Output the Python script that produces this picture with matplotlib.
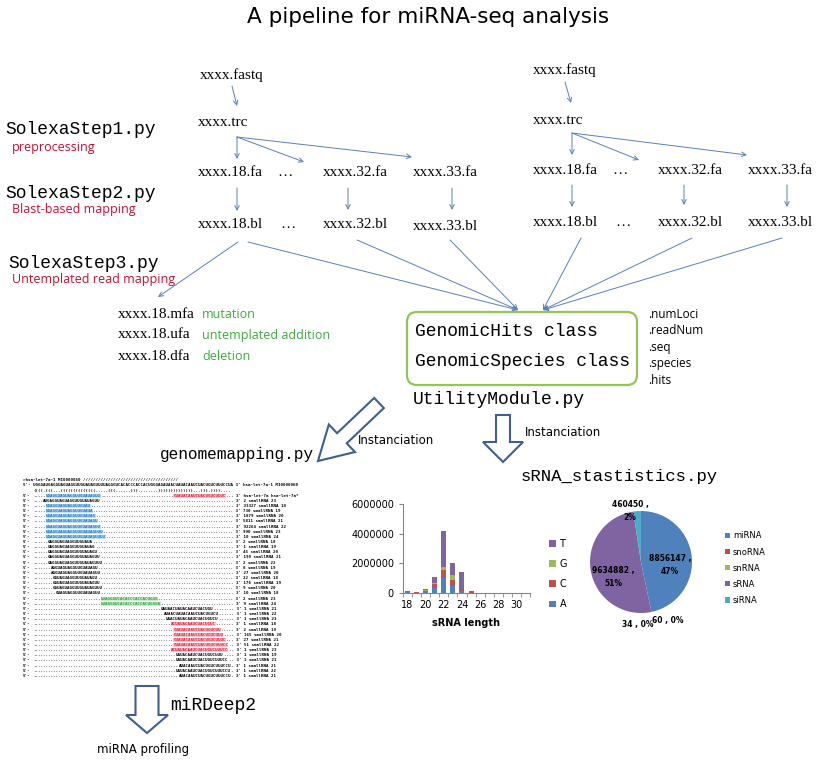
import numpy as np
import matplotlib.pyplot as plt
import matplotlib.patches as mpatches

W, H = 834, 766

# reads per length, stacked by first nucleotide
read_lengths = list(range(18, 32))
count_A = [40000, 20000, 100000, 330000, 990000, 450000, 150000, 30000, 5000, 3000, 2000, 2000, 1000, 1000]
count_C = [30000, 15000, 60000, 270000, 550000, 430000, 100000, 20000, 3000, 2000, 1000, 1000, 1000, 1000]
count_G = [20000, 10000, 40000, 100000, 200000, 300000, 50000, 15000, 3000, 2000, 1000, 1000, 1000, 1000]
count_T = [60000, 35000, 100000, 400000, 2410000, 820000, 1100000, 55000, 9000, 5000, 3000, 3000, 2000, 2000]
nuc_colors = {'A': '#4F81BD', 'C': '#C0504D', 'G': '#9BBB59', 'T': '#8064A2'}

# small RNA classes
pie_labels = ['miRNA', 'snoRNA', 'snRNA', 'sRNA', 'siRNA']
pie_counts = [8856147, 60, 34, 9634882, 460450]
pie_colors = ['#4F81BD', '#C0504D', '#9BBB59', '#8064A2', '#4BACC6']

# hairpin alignment (genomemapping.py output)
precursor = "UGGGAUGAGGUAGUAGGUUGUAUAGUUUUAGGGUCACACCCACCACUGGGAGAUAACUAUACAAUCUACUGUCUUUCCUA"
structure = "((((.(((...((((((((((((((.....(((......)))........))))))))))))))...))).))))...."
mature_start, mature_len = 5, 22
star_start, star_len = 56, 21
read_starts = [4, 5, 5, 5, 5, 5, 5, 5, 6, 6, 6, 6, 6, 7, 7, 8, 8, 8, 9,
               27, 27, 51, 52, 53, 55, 56, 56, 56, 56, 55, 57, 57, 58, 57, 58]
read_lens = [23, 18, 19, 20, 21, 22, 23, 24, 18, 19, 20, 21, 22, 19, 20, 18, 19, 20, 18,
             23, 24, 21, 22, 21, 18, 19, 20, 21, 22, 23, 19, 21, 21, 22, 21]
read_kinds = ['k', 'b', 'b', 'b', 'b', 'b', 'b', 'b', 'k', 'k', 'k', 'k', 'k', 'k', 'k', 'k', 'k', 'k', 'k',
              'g', 'g', 'k', 'k', 'k', 'r', 'r', 'r', 'r', 'r', 'r', 'k', 'k', 'k', 'k', 'k']
read_counts = [2, 33327, 730, 1879, 5811, 92264, 990, 10, 2, 1, 45, 190, 2, 8, 27, 22, 176, 9, 10,
               2, 9, 1, 1, 1, 1, 2, 165, 27, 51, 1, 1, 1, 1, 1, 1]
kind_style = {'k': ('black', None), 'b': ('#1F6FC0', '#BFE4F8'), 'r': ('#E0203A', '#F9C9D0'),
              'g': ('#2E9E3E', '#C9ECC9')}

fig = plt.figure(figsize=(W / 100, H / 100), dpi=100)
ax = fig.add_axes([0, 0, 1, 1])
ax.set_xlim(0, W)
ax.set_ylim(H, 0)
ax.axis('off')

serif = 'Liberation Serif'
mono = 'Liberation Mono'
sans = 'DejaVu Sans'
red = '#C8102E'
green = '#3DAA3D'
line_col = '#5B7FBE'


def txt(x, y, s, size, family=sans, color='black', **kw):
    ax.text(x, y, s, fontsize=size, family=family, color=color, va='center', ha='left', **kw)


def arrow(p0, p1):
    ax.annotate('', xy=p1, xytext=p0,
                arrowprops=dict(arrowstyle='->', color=line_col, lw=0.7,
                                shrinkA=0, shrinkB=0, mutation_scale=8))


ax.text(428, 17, 'A pipeline for miRNA-seq analysis', fontsize=15.5, family=sans,
        ha='center', va='center')

# step labels
txt(5, 130, 'SolexaStep1.py', 13, mono)
txt(12, 148, 'preprocessing', 9, 'Open Sans', red)
txt(5, 193, 'SolexaStep2.py', 13, mono)
txt(12, 210, 'Blast-based mapping', 9, 'Open Sans', red)
txt(8, 263, 'SolexaStep3.py', 13, mono)
txt(12, 280, 'Untemplated read mapping', 9, 'Open Sans', red)

# two file pipelines
for x0, yf, yt, ya, yb, dx in [(198, 75, 123, 173, 224, 0), (533, 70, 120, 170, 223, 1)]:
    txt(x0 + 2 - dx * 2, yf, 'xxxx.fastq', 11, serif)
    txt(x0, yt, 'xxxx.trc', 11, serif)
    txt(x0, ya, 'xxxx.18.fa', 11, serif)
    txt(x0, yb, 'xxxx.18.bl', 11, serif)
txt(277, 173, '…', 11, serif)
txt(323, 173, 'xxxx.32.fa', 11, serif)
txt(413, 173, 'xxxx.33.fa', 11, serif)
txt(280, 224, '…', 11, serif)
txt(323, 224, 'xxxx.32.bl', 11, serif)
txt(413, 226, 'xxxx.33.bl', 11, serif)
txt(612, 170, '…', 11, serif)
txt(658, 170, 'xxxx.32.fa', 11, serif)
txt(748, 170, 'xxxx.33.fa', 11, serif)
txt(615, 223, '…', 11, serif)
txt(658, 223, 'xxxx.32.bl', 11, serif)
txt(748, 223, 'xxxx.33.bl', 11, serif)

arrow((232, 86), (237, 106))
arrow((237, 137), (237, 159))
arrow((237, 137), (304, 162))
arrow((237, 137), (412, 157))
arrow((237, 188), (237, 211))
arrow((348, 188), (348, 210))
arrow((452, 188), (452, 210))

arrow((565, 82), (571, 103))
arrow((572, 133), (572, 155))
arrow((572, 133), (639, 160))
arrow((572, 133), (747, 155))
arrow((572, 185), (572, 207))
arrow((684, 185), (684, 205))
arrow((787, 185), (787, 207))

arrow((238, 242), (158, 297))
for p in [(248, 242), (357, 240), (450, 240)]:
    arrow(p, (518, 310))
for p in [(581, 238), (692, 238), (782, 238)]:
    arrow(p, (543, 310))

txt(118, 314, 'xxxx.18.mfa', 11, serif)
txt(202, 314, 'mutation', 9, 'Open Sans', green)
txt(118, 335, 'xxxx.18.ufa', 11, serif)
txt(202, 335, 'untemplated addition', 9, 'Open Sans', green)
txt(118, 356, 'xxxx.18.dfa', 11, serif)
txt(202, 356, 'deletion', 9, 'Open Sans', green)

box = mpatches.FancyBboxPatch((407, 312), 230, 73, boxstyle='round,pad=0,rounding_size=10',
                              ec='#92C45A', fc='white', lw=1.6)
ax.add_patch(box)
txt(415, 332, 'GenomicHits class', 13, mono)
txt(415, 362, 'GenomicSpecies class', 13, mono)
txt(413, 400, 'UtilityModule.py', 13, mono)
for i, attr in enumerate(['.numLoci', '.readNum', '.seq', '.species', '.hits']):
    txt(648, 314 + i * 16.5, attr, 8.5, 'Open Sans')

# block arrows
blk = dict(fc='white', ec='#3F5F8F', lw=1.5, length_includes_head=True)
ax.add_patch(mpatches.FancyArrow(379, 403, -61, 58, width=14, head_width=38, head_length=33, **blk))
ax.add_patch(mpatches.FancyArrow(503, 415, 0, 47, width=14, head_width=40, head_length=20, **blk))
ax.add_patch(mpatches.FancyArrow(147, 686, 0, 47, width=23, head_width=42, head_length=18, **blk))
txt(358, 440, 'Instanciation', 8.5)
txt(525, 432, 'Instanciation', 8.5)
txt(170, 705, 'miRDeep2', 13, mono)
txt(97, 750, 'miRNA profiling', 8.5)
txt(160, 455, 'genomemapping.py', 11.6, mono)
txt(521, 476, 'sRNA_stastistics.py', 12.5, mono)

# alignment block, drawn piece by piece so that nothing is stacked
fs = 3.0
cw = 0.602 * fs * 100 / 72
x0 = 23
mono_kw = dict(fontsize=fs, family='DejaVu Sans Mono', va='center', ha='left', fontweight='bold')


def piece(y, col, s, kind='k'):
    fg, bg = kind_style[kind]
    kw = dict(mono_kw)
    if bg:
        kw['bbox'] = dict(boxstyle='square,pad=0', fc=bg, ec='none')
    ax.text(x0 + col * cw, y, s, color=fg, **kw)


def aligned_row(y, parts, tail):
    # parts: list of (start, length, kind) in precursor coordinates
    piece(y, 0, "5'-")
    pos = 0
    for s, n, kind in parts:
        if s > pos:
            piece(y, 4 + pos, '.' * (s - pos))
        piece(y, 4 + s, precursor[s:s + n], kind)
        pos = s + n
    piece(y, 4 + pos, '.' * (80 - pos) + " 3' " + tail)


piece(480, 0, '>hsa-let-7a-1 MI0000060 ' + '/' * 38)
piece(485.2, 0, "5'- " + precursor + " 3' hsa-let-7a-1 MI0000060")
piece(490.4, 4, structure)
aligned_row(495.6, [(mature_start, mature_len, 'b'), (star_start, star_len, 'r')],
            'hsa-let-7a hsa-let-7a*')
for i in range(len(read_starts)):
    y = 500.8 + i * 5.15
    n = read_lens[i]
    aligned_row(y, [(read_starts[i], n, read_kinds[i])], '%d smallRNA %d' % (read_counts[i], n))

# stacked bar chart
bax = fig.add_axes([403 / W, (H - 593) / H, 127 / W, 89 / H])
bottom = np.zeros(len(read_lengths))
handles = []
for nuc, vals in [('A', count_A), ('C', count_C), ('G', count_G), ('T', count_T)]:
    b = bax.bar(read_lengths, vals, width=0.55, bottom=bottom, color=nuc_colors[nuc], label=nuc)
    handles.append(b)
    bottom += np.array(vals)
bax.set_xlim(17.5, 31.5)
bax.set_ylim(0, 6000000)
bax.set_yticks([0, 2000000, 4000000, 6000000])
bax.set_yticklabels(['0', '2000000', '4000000', '6000000'])
bax.set_xticks(range(18, 31, 2))
bax.set_xticks(np.arange(17.5, 32, 1), minor=True)
bax.tick_params(axis='x', which='major', length=0, labelsize=7, pad=5)
bax.tick_params(axis='x', which='minor', length=3, color='#868686')
bax.tick_params(axis='y', length=3, color='#868686', labelsize=7)
for sp in ['top', 'right']:
    bax.spines[sp].set_visible(False)
for sp in ['left', 'bottom']:
    bax.spines[sp].set_color('#868686')
bax.set_xlabel('sRNA length', fontsize=7, fontweight='bold', labelpad=6)
bax.legend(handles[::-1], ['T', 'G', 'C', 'A'], loc='upper left', frameon=False, fontsize=7,
           handlelength=0.7, handleheight=0.7, handletextpad=0.4, labelspacing=1.05,
           bbox_to_anchor=(540 / W, (H - 530) / H), bbox_transform=fig.transFigure)

# pie chart
pax = fig.add_axes([590 / W, (H - 613) / H, 102 / W, 102 / H])
pax.pie(pie_counts, colors=pie_colors, startangle=90, counterclock=False,
        wedgeprops=dict(linewidth=0))
pax.set_xlim(-1, 1)
pax.set_ylim(-1, 1)
total = sum(pie_counts)
pie_pos = [(670, 565), (668, 620), (638, 625), (613, 577), (630, 511)]
for cnt, (px, py) in zip(pie_counts, pie_pos):
    pct = round(100 * cnt / total)
    if cnt > 1000:
        s = '%d ,\n%d%%' % (cnt, pct)
    else:
        s = '%d , %d%%' % (cnt, pct)
    pax.text(px, py, s, transform=ax.transData, fontsize=5.5, fontweight='bold',
             ha='center', va='center', clip_on=False, linespacing=1.6)
pax.legend(pie_labels, loc='upper left', frameon=False, fontsize=6,
           handlelength=0.6, handleheight=0.6, handletextpad=0.4, labelspacing=0.85,
           bbox_to_anchor=(717 / W, (H - 524) / H), bbox_transform=fig.transFigure)

fig.savefig('out.png', dpi=100)
